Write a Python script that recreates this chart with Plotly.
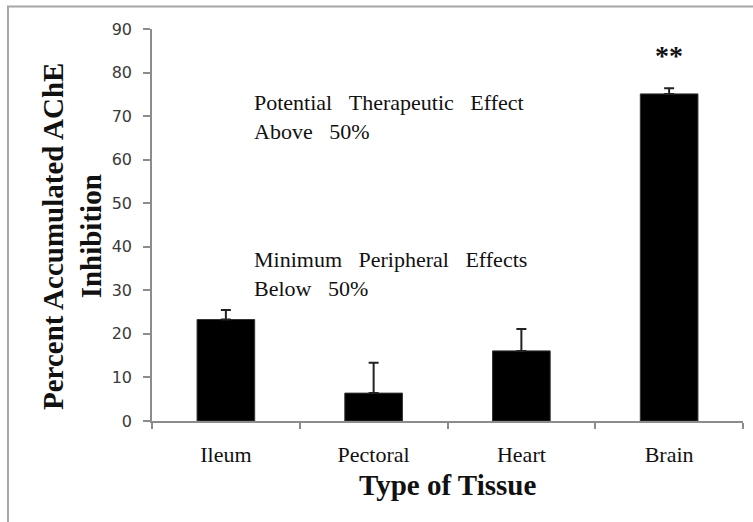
import plotly.graph_objects as go

categories = ["Ileum", "Pectoral", "Heart", "Brain"]
inhibition = [23.3, 6.4, 16.1, 75.1]
error_plus = [2.2, 7.0, 5.0, 1.3]
y_ticks = [0, 10, 20, 30, 40, 50, 60, 70, 80, 90]

NB = "\u00a0"
SP = " " + NB * 2

fig = go.Figure()
fig.add_trace(go.Bar(
    x=categories,
    y=inhibition,
    marker=dict(color="black", line=dict(color="#333333", width=1)),
    error_y=dict(type="data", symmetric=False, array=error_plus,
                 arrayminus=[0] * len(error_plus),
                 color="#222222", thickness=2, width=5),
    showlegend=False,
    hoverinfo="skip",
))

serif = "Liberation Serif, Times New Roman, serif"

fig.update_layout(
    width=753, height=522,
    margin=dict(l=152, r=10, t=29, b=101),
    paper_bgcolor="white", plot_bgcolor="white",
    bargap=0.61,
    xaxis=dict(
        showline=True, linecolor="#8c8c8c", linewidth=1.5,
        ticks="outside", tickson="boundaries", ticklen=6, tickcolor="#8c8c8c", tickwidth=1.5,
        tickfont=dict(family=serif, size=22, color="#111111"),
        ticklabelstandoff=13,
        showgrid=False, zeroline=False,
    ),
    yaxis=dict(
        range=[0, 90], tickvals=y_ticks,
        showline=True, linecolor="#8c8c8c", linewidth=1.5,
        ticks="outside", ticklen=7, tickcolor="#8c8c8c", tickwidth=1.5,
        tickfont=dict(family="DejaVu Sans, Verdana, sans-serif", size=16, color="#3a3a3a"),
        ticklabelstandoff=8,
        showgrid=False, zeroline=False,
    ),
    shapes=[dict(type="rect", xref="paper", yref="paper",
                 x0=-0.2437, x1=1.03, y0=-0.28, y1=1.0574,
                 line=dict(color="#a6a6a6", width=2), fillcolor="rgba(0,0,0,0)", layer="below")],
    annotations=[
        dict(text="<b>Percent Accumulated AChE<br>Inhibition</b>", xref="paper", yref="paper",
             x=(72 - 152) / 591, y=(421 - 237) / 392, textangle=-90,
             showarrow=False, xanchor="center", yanchor="middle",
             font=dict(family=serif, size=29, color="#111111"),
             ),
        dict(text="<b>Type of Tissue</b>", xref="paper", yref="paper",
             x=0.5, y=(421 - 485) / 392, showarrow=False,
             xanchor="center", yanchor="middle",
             font=dict(family=serif, size=29, color="#111111")),
        dict(text="Potential" + SP + "Therapeutic" + SP + "Effect<br>Above" + SP + "50%",
             xref="paper", yref="y", x=(252 - 152) / 591, y=(421 - 117) / 392 * 90,
             showarrow=False, xanchor="left", yanchor="middle", align="left",
             font=dict(family=serif, size=22, color="#111111")),
        dict(text="Minimum" + SP + "Peripheral" + SP + "Effects<br>Below" + SP + "50%",
             xref="paper", yref="y", x=(252 - 152) / 591, y=(421 - 274) / 392 * 90,
             showarrow=False, xanchor="left", yanchor="middle", align="left",
             font=dict(family=serif, size=22, color="#111111")),
        dict(text="<b>**</b>", xref="x", yref="y", x="Brain", y=(421 - 55) / 392 * 90,
             showarrow=False, xanchor="center", yanchor="middle",
             font=dict(family=serif, size=28, color="#111111")),
    ],
)

fig.write_html("out.html", config={"displayModeBar": False},
               post_script="document.body.style.margin='0px';")
